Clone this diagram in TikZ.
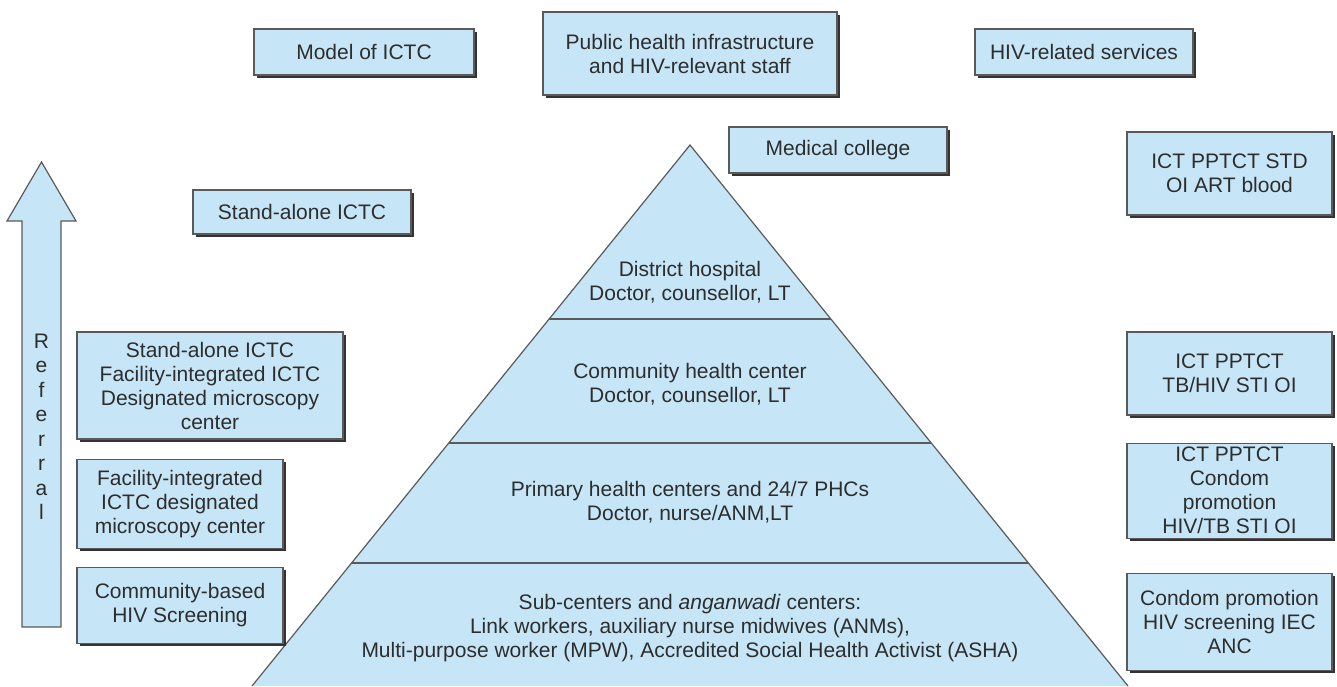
\documentclass[tikz,border=0pt]{standalone}
\usepackage{fontspec}
\setmainfont{Liberation Sans}
\usetikzlibrary{shadows, calc, positioning}
\definecolor{tierblue}{RGB}{198,230,247}
\definecolor{edgegray}{RGB}{90,90,90}
\definecolor{inkgray}{RGB}{45,45,45}

\begin{document}
\begin{tikzpicture}[
    x=0.5pt, y=-0.5pt,
    font=\fontsize{10.5}{12}\selectfont, text=inkgray,
    infobox/.style={rectangle, draw=edgegray, fill=tierblue, line width=0.6pt, align=center, inner sep=0pt, drop shadow={shadow xshift=1.5pt, shadow yshift=-1.5pt, fill=black!80, opacity=1}},
    tiertext/.style={align=center, inner sep=0pt},
    tierline/.style={draw=edgegray, line width=0.6pt}
]
\useasboundingbox (0,0) rectangle (1337,686);

% Pyramid
\coordinate (apex) at (690,145);
\coordinate (baseL) at (252,686);
\coordinate (baseR) at (1128,686);
\fill[tierblue] (apex) -- (baseL) -- (baseR) -- cycle;
\draw[tierline] (baseL) -- (apex) -- (baseR);
\foreach \t in {0.3216, 0.5508, 0.7726}
    \draw[tierline] ($(apex)!\t!(baseL)$) -- ($(apex)!\t!(baseR)$);

\node[tiertext] (district) at (690,282) {District hospital\\Doctor, counsellor, LT};
\node[tiertext] (chc) at (690,384) {Community health center\\Doctor, counsellor, LT};
\node[tiertext] (phc) at (690,502) {Primary health centers and 24/7 PHCs\\Doctor, nurse/ANM,LT};
\node[tiertext] (subc) at (690,628) {Sub-centers and \textit{anganwadi} centers:\\Link workers, auxiliary nurse midwives (ANMs),\\Multi-purpose worker (MPW), Accredited Social Health Activist (ASHA)};

% Column headings
\node[infobox, minimum width=110pt, minimum height=23pt] (model) at (364,52) {Model of ICTC};
\node[infobox, minimum width=147pt, minimum height=41.5pt] (infra) at (690,53.5) {Public health infrastructure\\and HIV-relevant staff};
\node[infobox, minimum width=109pt, minimum height=23pt] (hivserv) at (1084,52) {HIV-related services};

% Top level
\node[infobox, minimum width=109pt, minimum height=23pt] (medcol) at (838,150) {Medical college};
\node[infobox, minimum width=109pt, minimum height=22pt] (salone) at (302,212) {Stand-alone ICTC};
\node[infobox, minimum width=102.5pt, minimum height=41.5pt] (svcA) at (1229.5,173.5) {ICT PPTCT STD\\OI ART blood};

% Left column
\node[infobox, minimum width=133pt, minimum height=53.5pt] (ictcA) at (210,385.5) {Stand-alone ICTC\\Facility-integrated ICTC\\Designated microscopy\\center};
\node[infobox, minimum width=103pt, minimum height=44.5pt, below=9.5pt of ictcA.south west, anchor=north west] (ictcB) {Facility-integrated\\ICTC designated\\microscopy center};
\node[infobox, minimum width=103pt, minimum height=38pt, below=9pt of ictcB.south west, anchor=north west] (ictcC) {Community-based\\HIV Screening};

% Right column
\node[infobox, minimum width=102.5pt, minimum height=41.5pt] (svcB) at (1229.5,373.5) {ICT PPTCT\\TB/HIV STI OI};
\node[infobox, minimum width=102.5pt, minimum height=47.5pt, below=13.5pt of svcB] (svcC) {ICT PPTCT\\Condom\\promotion\\HIV/TB STI OI};
\node[infobox, minimum width=102.5pt, minimum height=48.5pt, below=17pt of svcC] (svcD) {Condom promotion\\HIV screening IEC\\ANC};

% Referral arrow
\draw[tierline, fill=tierblue] (22,627) -- (22,221) -- (7,221) -- (41.5,162) -- (76,221) -- (61,221) -- (61,627) -- cycle;
\node[tiertext, font=\fontsize{10.5}{12.25}\selectfont] (referral) at (41.5,427) {R\\e\\f\\e\\r\\r\\a\\l};

\end{tikzpicture}
\end{document}
